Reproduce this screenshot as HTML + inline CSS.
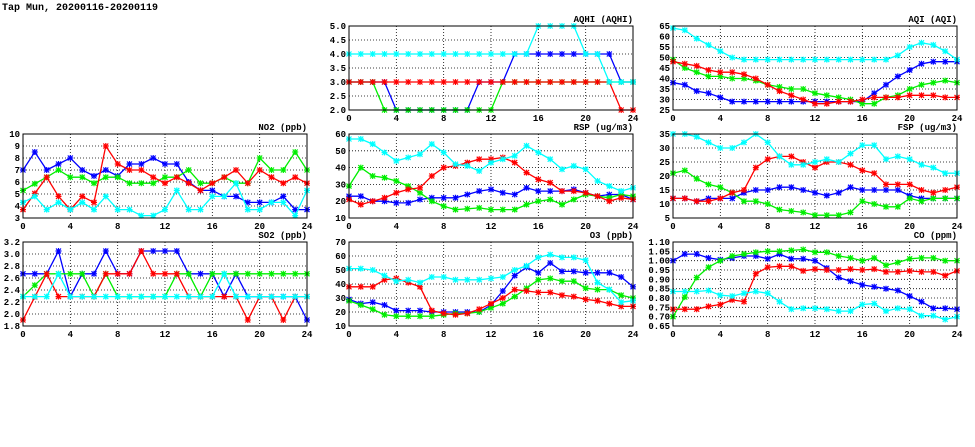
<!DOCTYPE html>
<html><head><meta charset="utf-8"><style>
html,body{margin:0;padding:0;background:#fff;width:975px;height:447px;overflow:hidden}
svg{display:block}
text{font-family:"Liberation Mono","DejaVu Sans Mono",monospace;font-weight:bold;font-size:9px;fill:#000}
</style></head><body>
<svg id="s" width="975" height="447" xmlns="http://www.w3.org/2000/svg">
<text x="2" y="10" style="font-size:10px">Tap Mun, 20200116-20200119</text>
</svg>
<script>
var S=document.getElementById('s'),NS='http://www.w3.org/2000/svg';
function el(t,a,tx){var e=document.createElementNS(NS,t);for(var k in a)e.setAttribute(k,a[k]);if(tx!=null)e.textContent=tx;S.appendChild(e);return e;}
function I(a){for(var i=0;i<a.length;i++)if(a[i]==null)a[i]=(a[i-1]+a[i+1])/2;return a;}
var C={b:'#0000ff',g:'#00ee00',r:'#ff0000',c:'#00ffff'};
function panel(x,y,title,ymin,ymax,step,dec,series){
 var w=284,h=84;
 el('rect',{x:x,y:y,width:w,height:h,fill:'#fff',stroke:'none'});
 var n=Math.round((ymax-ymin)/step);
 for(var i=0;i<=n;i++){var v=ymin+i*step,yy=y+h-i*h/n;
  if(i>0&&i<n)el('line',{x1:x,x2:x+w,y1:yy,y2:yy,stroke:'#000','stroke-width':0.8,'stroke-dasharray':'1,2'});
  el('text',{x:x-3,y:yy+3,'text-anchor':'end'},v.toFixed(dec));}
 for(var k=0;k<=24;k+=4){var xx=x+k*w/24;
  if(k>0&&k<24)el('line',{x1:xx,x2:xx,y1:y,y2:y+h,stroke:'#000','stroke-width':0.8,'stroke-dasharray':'1,2'});
  el('text',{x:xx,y:y+h+11,'text-anchor':'middle'},k);}
 el('text',{x:x+w,y:y-4,'text-anchor':'end'},title);
 ['b','g','r','c'].forEach(function(c){var d=I(series[c].slice()),pts=[];
  for(var i=0;i<d.length;i++){pts.push((x+i*w/24).toFixed(1)+','+(y+h-(d[i]-ymin)/(ymax-ymin)*h).toFixed(1));}
  el('polyline',{points:pts.join(' '),fill:'none',stroke:C[c],'stroke-width':1.3});
  var p='';pts.forEach(function(q){var a=q.split(','),X=+a[0],Y=+a[1];p+='M'+(X-2.5)+' '+(Y-2.5)+'L'+(X+2.5)+' '+(Y+2.5)+'M'+(X-2.5)+' '+(Y+2.5)+'L'+(X+2.5)+' '+(Y-2.5)+'M'+(X-3)+' '+Y+'L'+(X+3)+' '+Y+'M'+X+' '+(Y-3)+'L'+X+' '+(Y+3);});
  el('path',{d:p,stroke:C[c],'stroke-width':1.2,fill:'none'});
 });
 el('rect',{x:x,y:y,width:w,height:h,fill:'none',stroke:'#000','stroke-width':1});
}
panel(23,134,'NO2 (ppb)',3,10,1,0,{
b:[7,8.5,7,7.5,8,7,6.5,7,6.5,7.5,7.5,8,7.5,7.5,6,5.3,5.3,4.8,4.8,4.3,4.3,4.3,4.8,3.7,3.7],
g:[5.3,null,6.4,7,6.4,6.4,5.9,6.4,6.4,5.9,5.9,5.9,6.4,6.4,7,5.9,5.9,6.4,5.9,5.9,8,7,7,8.5,7],
r:[3.7,null,6.4,4.8,3.7,4.8,4.3,9,7.5,7,7,6.4,5.9,6.4,5.9,5.3,5.9,6.4,7,5.9,7,6.4,5.9,6.4,5.9],
c:[4.3,4.8,3.7,4.3,3.7,4.3,3.7,4.8,3.7,3.7,3.2,3.2,3.7,5.3,3.7,3.7,4.8,4.8,5.9,3.7,3.7,4.3,4.3,3.2,5.3]});
panel(23,242,'SO2 (ppb)',1.8,3.2,0.2,1,{
b:[2.67,2.67,2.67,3.05,2.29,2.67,2.67,3.05,2.67,2.67,3.05,3.05,3.05,3.05,2.67,2.67,2.67,2.29,2.67,2.29,2.29,2.29,2.29,2.29,1.9],
g:[2.29,null,2.67,2.67,2.67,2.67,2.29,2.67,2.29,2.29,2.29,2.29,2.29,2.67,2.67,2.29,2.67,2.67,2.67,2.67,2.67,2.67,2.67,2.67,2.67],
r:[1.9,null,2.67,2.29,2.29,2.29,2.29,2.67,2.67,2.67,3.05,2.67,2.67,2.67,2.29,2.29,2.29,2.29,2.29,1.9,2.29,2.29,1.9,2.29,2.29],
c:[2.29,2.29,2.29,2.67,2.29,2.29,2.29,2.29,2.29,2.29,2.29,2.29,2.29,2.29,2.29,2.29,2.29,2.67,2.29,2.29,2.29,2.29,2.29,2.29,2.29]});
panel(349,26,'AQHI (AQHI)',2,5,0.5,1,{
b:[3,3,3,3,2,2,2,2,2,2,2,3,3,3,4,4,4,4,4,4,4,4,4,3,3],
g:[3,3,3,2,2,2,2,2,2,2,2,2,2,3,3,3,3,3,3,3,3,3,3,3,3],
r:[3,3,3,3,3,3,3,3,3,3,3,3,3,3,3,3,3,3,3,3,3,3,3,2,2],
c:[4,4,4,4,4,4,4,4,4,4,4,4,4,4,4,4,5,5,5,5,4,4,3,3,3]});
panel(349,134,'RSP (ug/m3)',10,60,10,0,{
b:[23,23,20,20,19,19,21,22,22,22,24,26,27,25,24,28,26,26,26,27,25,23,24,24,21],
g:[29,40,35,34,32,29,25,20,17,15,null,16,15,15,15,18,20,21,18,21,24,23,22,24,23],
r:[21,18,20,22,25,27,28,35,40,41,43,45,45,46,43,37,33,31,26,26,25,23,20,22,21],
c:[57,57,54,49,44,46,48,54,49,42,41,38,43,45,47,53,49,45,39,41,39,32,29,26,28]});
panel(349,242,'O3 (ppb)',10,70,10,0,{
b:[29,26,27,25,21,21,21,20,20,20,20,20,25,35,46,52,48,55,49,49,48,48,48,45,38],
g:[28,null,22,18,17,17,17,17,18,19,19,20,23,26,31,37,43,44,42,42,37,36,36,32,30],
r:[38,null,38,43,44,41,38,21,19,18,19,22,26,30,36,35,34,34,32,31,29,28,26,24,24],
c:[51,51,50,46,42,43,41,45,45,43,43,43,44,45,50,53,59,61,59,59,57,41,36,27,28]});
panel(673,26,'AQI (AQI)',25,65,5,0,{
b:[38,37,34,33,31,29,29,29,29,29,29,29,29,29,29,29,29,33,37,41,44,47,48,48,48],
g:[49,45,43,41,41,40,40,39,37,36,35,35,33,32,31,30,28,28,31,32,35,37,38,39,38],
r:[48,47,46,44,43,43,42,40,37,34,32,30,28,28,29,29,30,31,31,31,32,32,32,31,31],
c:[64,63,59,56,53,50,49,49,49,49,49,49,49,49,49,49,49,49,49,51,55,57,56,53,49]});
panel(673,134,'FSP (ug/m3)',5,35,5,0,{
b:[12,12,11,12,12,12,14,15,15,16,16,15,14,13,14,16,15,15,15,15,13,12,12,12,12],
g:[21,22,19,17,16,14,11,11,10,8,null,7,6,6,6,7,11,10,9,9,12,11,12,12,12],
r:[12,12,11,11,12,14,15,23,26,27,27,25,23,25,25,24,22,21,17,17,17,15,14,15,16],
c:[35,35,34,32,30,30,32,35,32,27,24,24,25,26,25,28,31,31,26,27,26,24,23,21,21]});
panel(673,242,'CO (ppm)',0.65,1.10,0.05,2,{
b:[1.00,1.035,1.035,1.015,1.005,1.015,1.025,1.025,1.01,1.035,1.01,1.01,1.0,0.96,0.91,0.89,0.87,0.86,0.85,0.84,0.81,0.78,0.745,0.745,0.74],
g:[0.70,null,0.91,0.965,1.0,1.025,1.035,1.045,1.05,1.05,1.055,1.06,1.045,1.045,1.025,1.015,1.0,1.015,0.975,0.99,1.01,1.015,1.015,1.0,1.0],
r:[0.74,null,0.74,0.755,0.765,0.79,0.78,0.93,0.965,0.97,0.97,0.945,0.955,0.95,0.95,0.955,0.95,0.955,0.94,0.94,0.945,0.94,0.94,0.92,0.945],
c:[0.835,0.835,0.835,0.84,0.815,0.81,0.825,0.835,0.825,0.78,0.74,0.745,0.745,0.74,0.73,0.73,0.765,0.77,0.73,0.745,0.74,0.705,0.705,0.685,0.70]});
</script>
</body></html>
